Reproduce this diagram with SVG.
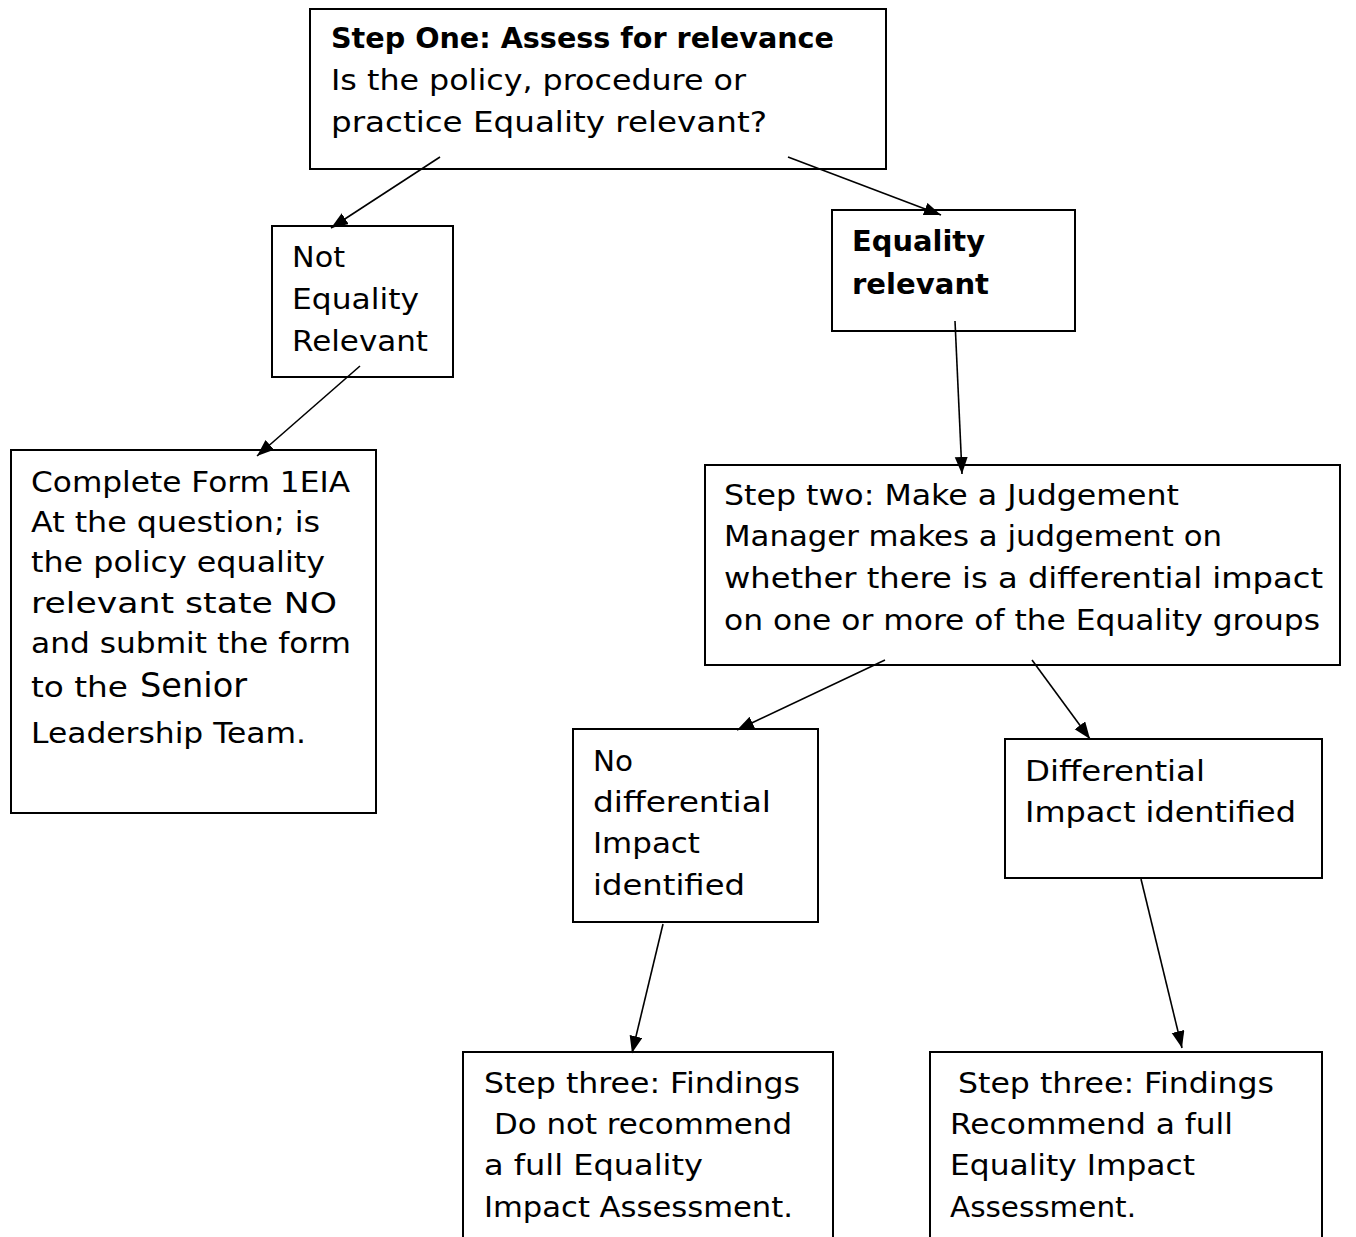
<svg xmlns="http://www.w3.org/2000/svg" width="1356" height="1237" viewBox="0 0 1356 1237">
<style>
  .box { fill: #fff; stroke: #000; stroke-width: 2; }
  .t { font-family: "DejaVu Sans", "Liberation Sans", sans-serif; font-size: 29px; fill: #000; }
  .b { font-weight: bold; }
  .conn { stroke: #000; stroke-width: 1.6; fill: none; marker-end: url(#arr); }
</style>
<defs>
  <marker id="arr" markerUnits="userSpaceOnUse" markerWidth="18" markerHeight="14" refX="17" refY="6.5" orient="auto">
    <path d="M0,0 L17,6.5 L0,13 z" fill="#000"/>
  </marker>
</defs>
<rect width="1356" height="1237" fill="#fff"/>

<g id="n-step1">
  <rect class="box" x="310" y="9" width="576" height="160"/>
  <text class="t b" x="331" y="48" textLength="503" lengthAdjust="spacingAndGlyphs">Step One: Assess for relevance</text>
  <text class="t" x="331" y="90" textLength="415" lengthAdjust="spacingAndGlyphs">Is the policy, procedure or</text>
  <text class="t" x="331" y="132" textLength="436" lengthAdjust="spacingAndGlyphs">practice Equality relevant?</text>
</g>

<g id="n-not-relevant">
  <rect class="box" x="272" y="226" width="181" height="151"/>
  <text class="t" x="292" y="267" textLength="53" lengthAdjust="spacingAndGlyphs">Not</text>
  <text class="t" x="292" y="309" textLength="127" lengthAdjust="spacingAndGlyphs">Equality</text>
  <text class="t" x="292" y="351" textLength="136" lengthAdjust="spacingAndGlyphs">Relevant</text>
</g>

<g id="n-relevant">
  <rect class="box" x="832" y="210" width="243" height="121"/>
  <text class="t b" x="852" y="251" textLength="133" lengthAdjust="spacingAndGlyphs">Equality</text>
  <text class="t b" x="852" y="294" textLength="137" lengthAdjust="spacingAndGlyphs">relevant</text>
</g>

<g id="n-form">
  <rect class="box" x="11" y="450" width="365" height="363"/>
  <text class="t" x="31" y="492" textLength="319" lengthAdjust="spacingAndGlyphs">Complete Form 1EIA</text>
  <text class="t" x="31" y="532" textLength="289" lengthAdjust="spacingAndGlyphs">At the question; is</text>
  <text class="t" x="31" y="572" textLength="294" lengthAdjust="spacingAndGlyphs">the policy equality</text>
  <text class="t" x="31" y="613" textLength="306" lengthAdjust="spacingAndGlyphs">relevant state NO</text>
  <text class="t" x="31" y="653" textLength="320" lengthAdjust="spacingAndGlyphs">and submit the form</text>
  <text class="t" x="31" y="697" textLength="97" lengthAdjust="spacingAndGlyphs">to the</text>
  <text class="t" x="140" y="697" style="font-size:34px" textLength="107" lengthAdjust="spacingAndGlyphs">Senior</text>
  <text class="t" x="31" y="743" textLength="275" lengthAdjust="spacingAndGlyphs">Leadership Team.</text>
</g>

<g id="n-step2">
  <rect class="box" x="705" y="465" width="635" height="200"/>
  <text class="t" x="724" y="505" textLength="455" lengthAdjust="spacingAndGlyphs">Step two: Make a Judgement</text>
  <text class="t" x="724" y="546" textLength="498" lengthAdjust="spacingAndGlyphs">Manager makes a judgement on</text>
  <text class="t" x="724" y="588" textLength="599" lengthAdjust="spacingAndGlyphs">whether there is a differential impact</text>
  <text class="t" x="724" y="630" textLength="596" lengthAdjust="spacingAndGlyphs">on one or more of the Equality groups</text>
</g>

<g id="n-no-diff">
  <rect class="box" x="573" y="729" width="245" height="193"/>
  <text class="t" x="593" y="771" textLength="40" lengthAdjust="spacingAndGlyphs">No</text>
  <text class="t" x="593" y="812" textLength="178" lengthAdjust="spacingAndGlyphs">differential</text>
  <text class="t" x="593" y="853" textLength="107" lengthAdjust="spacingAndGlyphs">Impact</text>
  <text class="t" x="593" y="895" textLength="152" lengthAdjust="spacingAndGlyphs">identified</text>
</g>

<g id="n-diff">
  <rect class="box" x="1005" y="739" width="317" height="139"/>
  <text class="t" x="1025" y="781" textLength="180" lengthAdjust="spacingAndGlyphs">Differential</text>
  <text class="t" x="1025" y="822" textLength="271" lengthAdjust="spacingAndGlyphs">Impact identified</text>
</g>

<g id="n-step3-no">
  <rect class="box" x="463" y="1052" width="370" height="200"/>
  <text class="t" x="484" y="1093" textLength="316" lengthAdjust="spacingAndGlyphs">Step three: Findings</text>
  <text class="t" x="494" y="1134" textLength="298" lengthAdjust="spacingAndGlyphs">Do not recommend</text>
  <text class="t" x="484" y="1175" textLength="219" lengthAdjust="spacingAndGlyphs">a full Equality</text>
  <text class="t" x="484" y="1217" textLength="309" lengthAdjust="spacingAndGlyphs">Impact Assessment.</text>
</g>

<g id="n-step3-yes">
  <rect class="box" x="930" y="1052" width="392" height="200"/>
  <text class="t" x="958" y="1093" textLength="316" lengthAdjust="spacingAndGlyphs">Step three: Findings</text>
  <text class="t" x="950" y="1134" textLength="283" lengthAdjust="spacingAndGlyphs">Recommend a full</text>
  <text class="t" x="950" y="1175" textLength="245" lengthAdjust="spacingAndGlyphs">Equality Impact</text>
  <text class="t" x="950" y="1217" textLength="186" lengthAdjust="spacingAndGlyphs">Assessment.</text>
</g>

<g id="connectors">
  <line class="conn" x1="440" y1="157" x2="331" y2="228"/>
  <line class="conn" x1="788" y1="157" x2="941" y2="215"/>
  <line class="conn" x1="360" y1="366" x2="257" y2="456"/>
  <line class="conn" x1="955" y1="321" x2="962" y2="474"/>
  <line class="conn" x1="885" y1="660" x2="737" y2="730"/>
  <line class="conn" x1="1032" y1="660" x2="1090" y2="739"/>
  <line class="conn" x1="663" y1="924" x2="632" y2="1053"/>
  <line class="conn" x1="1141" y1="879" x2="1182" y2="1048"/>
</g>
</svg>
